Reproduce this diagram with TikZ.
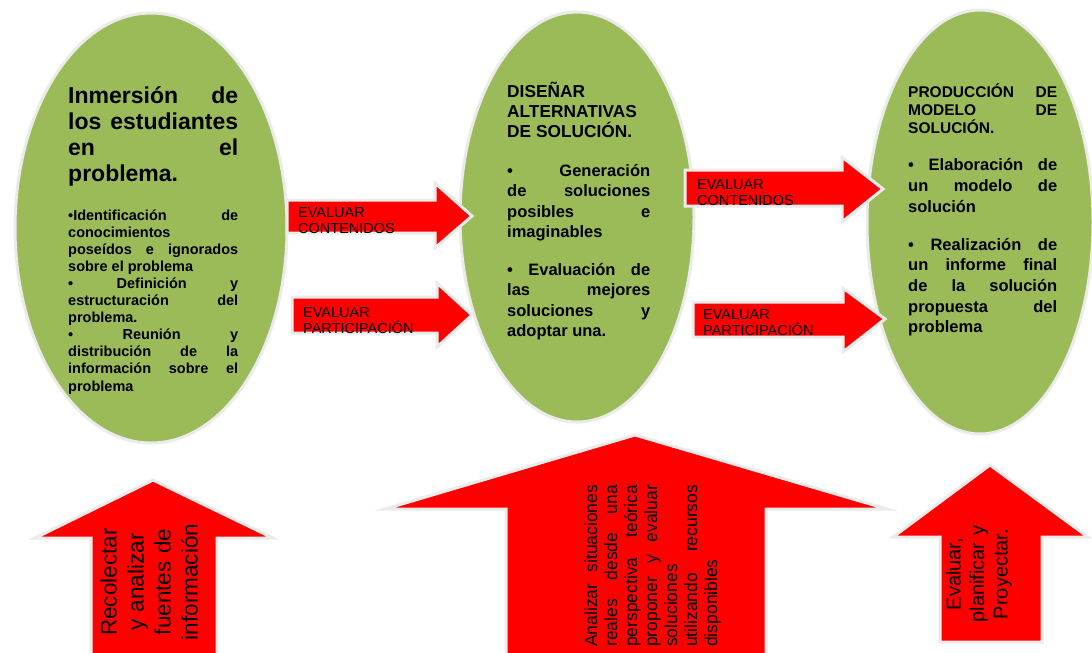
\documentclass[tikz,border=0pt]{standalone}
\usepackage{xcolor}
\usepackage{fontspec}
\setmainfont{Liberation Sans}
\usepackage{tikz}
\usetikzlibrary{shapes.geometric}
\definecolor{stagegreen}{HTML}{9BBB59}
\definecolor{glow}{HTML}{EBEBEB}
\tolerance=10000
\hbadness=10000
\hyphenpenalty=10000
\exhyphenpenalty=10000

\begin{document}
\begin{tikzpicture}[
  x=1pt, y=-1pt,
  stage/.style={ellipse, draw=glow, line width=3pt, fill=stagegreen, inner sep=0pt},
  blockarrow/.style={fill=red, draw=glow, line width=3pt, line join=miter},
  stagetext/.style={anchor=base west, inner sep=0pt, align=justify},
  evaltext/.style={anchor=base west, inner sep=0pt, text width=150, align=left, font=\fontsize{14.5}{16.5}\selectfont},
  uptext/.style={rotate=90, inner sep=0pt}
]
\useasboundingbox (0,0) rectangle (1092,653);

\node[stage, minimum width=272, minimum height=430] (inm) at (151,228) {};
\node[stage, minimum width=234, minimum height=410] (dis) at (577,217) {};
\node[stage, minimum width=226, minimum height=424] (prod) at (980,222) {};

\path[blockarrow] (287,200) -- (435,200) -- (435,183) -- (472,216) -- (435,248) -- (435,233) -- (287,233) -- cycle;
\path[blockarrow] (292,297) -- (437,297) -- (437,283) -- (472,315) -- (437,347) -- (437,333) -- (292,333) -- cycle;
\path[blockarrow] (685,170) -- (842,170) -- (842,157) -- (883,189) -- (842,222) -- (842,206) -- (685,206) -- cycle;
\path[blockarrow] (693,302) -- (843,302) -- (843,288) -- (885,319) -- (843,352) -- (843,337) -- (693,337) -- cycle;

\path[blockarrow] (91,660) -- (91,538) -- (35,538) -- (153,480) -- (273,538) -- (217,538) -- (217,660) -- cycle;
\path[blockarrow] (506,660) -- (506,509) -- (385,509) -- (635,435) -- (887,509) -- (766,509) -- (766,660) -- cycle;
\path[blockarrow] (940,642) -- (940,537) -- (893,537) -- (990,465) -- (1088,537) -- (1042,537) -- (1042,642) -- cycle;

\node[stagetext, text width=170, font=\bfseries\fontsize{23}{26.3}\selectfont] (inmTitle) at (68,103)
  {Inmersión de\linebreak los estudiantes\linebreak en el\linebreak problema.};
\node[stagetext, text width=170, font=\bfseries\fontsize{14.5}{17.1}\selectfont] (inmBody) at (68,220)
  {•Identificación de\linebreak conocimientos\linebreak poseídos e ignorados\linebreak sobre el problema\par
   • Definición y\linebreak estructuración del\linebreak problema.\par
   • Reunión y\linebreak distribución de la\linebreak información sobre el\linebreak problema};

\node[stagetext, text width=143, font=\bfseries\fontsize{17.3}{20}\selectfont] (disTitle) at (507,97)
  {DISEÑAR\\ALTERNATIVAS\\DE SOLUCIÓN.};
\node[stagetext, text width=143, font=\bfseries\fontsize{16.5}{20.5}\selectfont] (disGen) at (507,176)
  {• Generación\linebreak de soluciones\linebreak posibles e\linebreak imaginables};
\node[stagetext, text width=143, font=\bfseries\fontsize{16.5}{20.5}\selectfont] (disEval) at (507,275)
  {• Evaluación de\linebreak las mejores\linebreak soluciones y\linebreak adoptar una.};

\node[stagetext, text width=149, font=\bfseries\fontsize{15.5}{18}\selectfont] (prodTitle) at (908,97)
  {PRODUCCIÓN DE\linebreak MODELO DE\linebreak SOLUCIÓN.};
\node[stagetext, text width=149, font=\bfseries\fontsize{16.5}{21}\selectfont] (prodElab) at (908,170)
  {• Elaboración de\linebreak un modelo de\linebreak solución};
\node[stagetext, text width=149, font=\bfseries\fontsize{16.5}{20.7}\selectfont] (prodReal) at (908,250)
  {• Realización de\linebreak un informe final\linebreak de la solución\linebreak propuesta del\linebreak problema};

\node[evaltext] (contA) at (298,217) {EVALUAR\\CONTENIDOS};
\node[evaltext] (partA) at (303,317) {EVALUAR\\PARTICIPACIÓN};
\node[evaltext] (contB) at (697,189) {EVALUAR\\CONTENIDOS};
\node[evaltext] (partB) at (703,319) {EVALUAR\\PARTICIPACIÓN};

\node[uptext, text width=130, align=center, font=\fontsize{22.5}{27}\selectfont] (recolectar) at (149,582)
  {Recolectar\\y analizar\\fuentes de\\información};
\node[uptext, anchor=base west, text width=162, align=justify, font=\fontsize{17.5}{20}\selectfont] (analizar) at (597,647)
  {Analizar situaciones\linebreak reales desde una\linebreak perspectiva teórica\linebreak proponer y evaluar\linebreak soluciones\linebreak utilizando recursos\linebreak disponibles};
\node[uptext, text width=110, align=center, font=\fontsize{20}{23.5}\selectfont] (evaluar) at (979,574)
  {Evaluar,\\planificar y\\Proyectar.};

\end{tikzpicture}
\end{document}
